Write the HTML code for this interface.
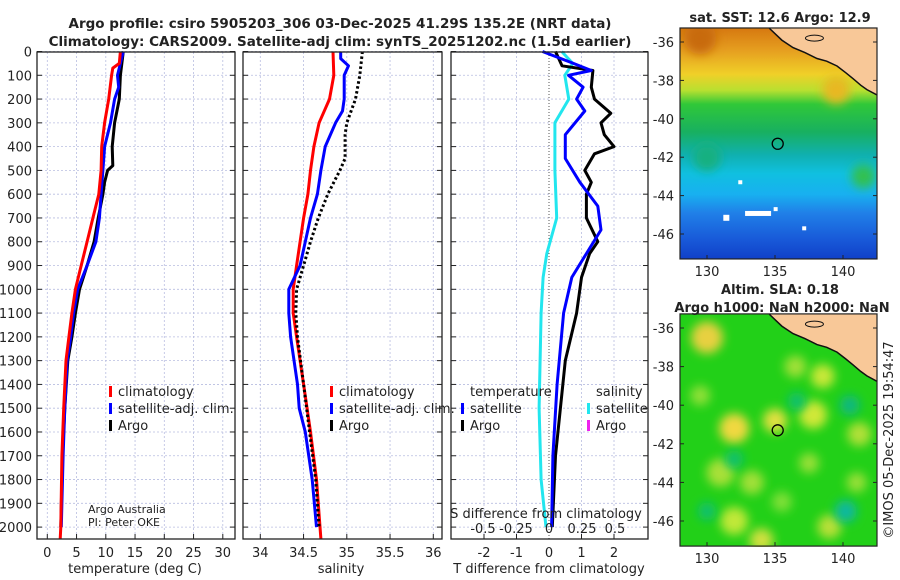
<!DOCTYPE html>
<html><head><meta charset="utf-8">
<style>
html,body{margin:0;padding:0;background:#fff;}
svg{display:block;font-family:"DejaVu Sans","Liberation Sans",sans-serif;}
</style></head>
<body>
<svg id="fig" width="900" height="580" viewBox="0 0 900 580" xmlns="http://www.w3.org/2000/svg">
<defs>
<linearGradient id="sstg" x1="0" y1="0" x2="0" y2="1">
<stop offset="0" stop-color="#d67810"/><stop offset="0.1" stop-color="#e6a020"/>
<stop offset="0.2" stop-color="#f0d028"/><stop offset="0.27" stop-color="#b8e030"/>
<stop offset="0.33" stop-color="#30c838"/><stop offset="0.45" stop-color="#18b060"/>
<stop offset="0.55" stop-color="#10b0b0"/><stop offset="0.63" stop-color="#10c0e0"/>
<stop offset="0.72" stop-color="#18b0f0"/><stop offset="0.8" stop-color="#2080e8"/>
<stop offset="0.92" stop-color="#1858d8"/><stop offset="1" stop-color="#1040c8"/>
</linearGradient>
<filter id="blur" x="-100%" y="-100%" width="300%" height="300%"><feGaussianBlur stdDeviation="5"/></filter>
<clipPath id="clipTop"><rect x="680" y="28" width="197" height="231"/></clipPath>
<clipPath id="clipBot"><rect x="680" y="314" width="197" height="233"/></clipPath>
</defs>
<g id="root"></g>
</svg>
<script>
// ---------- profile data ----------
var depthTicks = [0,100,200,300,400,500,600,700,800,900,1000,1100,1200,1300,1400,1500,1600,1700,1800,1900,2000];
var tempTicks = [0,5,10,15,20,25,30];
var salTicks = [34,34.5,35,35.5,36];
var tdiffTicks = [-2,-1,0,1,2];
var sdiffTicks = [-0.5,-0.25,0,0.25,0.5];

var tClimDepth = [0,50,70,100,200,300,400,500,600,700,800,900,1000,1100,1200,1300,1500,1700,2000,2050];
var tClimVal   = [12.5,12.3,11.2,11,10.5,9.8,9.3,9.2,8.8,7.8,6.8,5.8,4.8,4.2,3.7,3.2,2.8,2.5,2.3,2.2];
var tSatDepth = [0,100,150,200,300,400,500,600,700,800,900,1000,1100,1200,1300,1500,1700,2000];
var tSatVal   = [13,12,12.2,11.5,10.8,9.8,9.5,9.2,8.9,8.3,6.8,5.2,4.5,4,3.4,3.0,2.7,2.4];
var tArgoDepth = [0,100,200,300,400,480,500,550,600,700,800,900,1000,1100,1200,1300,1500,1700,2000];
var tArgoVal   = [13,12.5,12.3,11.5,11.1,11.2,10.3,9.8,9.5,8.7,8,6.8,5.5,4.8,4.2,3.5,3,2.6,2.3];

var sClimDepth = [0,100,200,300,400,500,600,700,800,900,1000,1100,1200,1400,1600,1800,2050];
var sClimVal   = [34.84,34.85,34.8,34.68,34.62,34.58,34.55,34.5,34.46,34.42,34.38,34.38,34.42,34.5,34.58,34.65,34.7];
var sSatDepth = [0,30,60,100,200,250,300,400,500,600,700,800,900,1000,1100,1200,1400,1500,1600,1800,2000];
var sSatVal   = [34.93,34.93,35.02,34.97,34.97,34.95,34.87,34.75,34.7,34.66,34.58,34.52,34.46,34.33,34.33,34.35,34.43,34.45,34.52,34.6,34.65];
var sArgoDepth = [0,100,200,300,350,450,500,550,600,700,800,900,1000,1100,1200,1400,1600,1800,2000];
var sArgoVal   = [35.18,35.15,35.1,35.0,34.98,34.98,34.92,34.85,34.78,34.67,34.58,34.5,34.42,34.41,34.43,34.5,34.57,34.64,34.68];

var dTSatDepth = [0,50,80,100,150,200,250,350,450,550,650,750,850,950,1100,1400,1700,2000];
var dTSatVal   = [-0.2,0.75,1.3,0.6,1.05,0.85,1.1,0.5,0.5,0.95,1.5,1.6,1.15,0.7,0.45,0.25,0.12,0.08];
var dTArgoDepth = [0,60,80,150,200,260,300,350,400,430,500,550,600,700,800,850,950,1100,1300,1500,1700,2000];
var dTArgoVal   = [0.2,0.4,1.35,1.3,1.4,1.9,1.6,1.7,2.0,1.4,1.1,1.3,1.15,1.15,1.5,1.25,1.0,0.85,0.5,0.35,0.2,0.1];
var dSSatDepth = [0,50,100,200,300,500,700,850,950,1100,1500,1800,2000];
var dSSatVal   = [0.096,0.18,0.12,0.15,0.045,0.045,0.058,-0.017,-0.045,-0.06,-0.075,-0.06,-0.023];

// map data
var lonTicks = [130,135,140];
var latTicks = [-36,-38,-40,-42,-44,-46];
var argoLon = [135.2];
var argoLat = [-41.3];
var coastLon = [134.5,134.63,135.5,136.32,137.2,138.09,138.8,139.56,140.2,140.74,141.3,141.76,142.5];
var coastLat = [-35.2,-35.32,-35.9,-36.29,-36.55,-36.86,-37.0,-37.25,-37.6,-37.91,-38.25,-38.48,-38.76];

// ---------- geometry ----------
var TOP=52, BOT=539, D0=51.5, DPX=0.2378;
function yD(d){return D0+d*DPX;}
var P1={l:37,r:235}, P2={l:243,r:442}, P3={l:451,r:648};
function xT(v){return 47.3+v*5.85;}
function xS(v){return 260.3+(v-34)*86.5;}
function xDT(v){return 549+v*32.5;}
function xDS(v){return 549+v*132;}
function xLon(v){return 707+(v-130)*13.6;}
function yLatTop(v){return 42+(-36-v)*19.2;}
function yLatBot(v){return 328+(-36-v)*19.3;}

var NS="http://www.w3.org/2000/svg";
var root=document.getElementById('root');
function mk(tag,attrs,parent){
  var e=document.createElementNS(NS,tag);
  for(var k in attrs) e.setAttribute(k,attrs[k]);
  (parent||root).appendChild(e);
  return e;
}
function txt(s,x,y,size,anchor,weight,parent){
  var t=mk('text',{x:x,y:y,'font-size':size,'text-anchor':anchor||'start','font-weight':weight||'normal',fill:'#222'},parent);
  t.textContent=s;
  return t;
}
function panel(P,name){
  var g=mk('g',{});
  
  
  return g;
}
function grid(g,P,xticks,xf){
  xticks.forEach(function(v){
    var l=mk('line',{x1:xf(v),x2:xf(v),y1:TOP,y2:BOT,stroke:'#b8bde0','stroke-width':0.8,'stroke-dasharray':'2,2'},g);
    
    
  });
  depthTicks.forEach(function(d){
    var l=mk('line',{x1:P.l,x2:P.r,y1:yD(d),y2:yD(d),stroke:'#b8bde0','stroke-width':0.8,'stroke-dasharray':'2,2'},g);
    
    
    mk('line',{x1:P.l,x2:P.l+5,y1:yD(d),y2:yD(d),stroke:'#222'},g);
    mk('line',{x1:P.r-5,x2:P.r,y1:yD(d),y2:yD(d),stroke:'#222'},g);
  });
  xticks.forEach(function(v){
    mk('line',{x1:xf(v),x2:xf(v),y1:BOT-5,y2:BOT,stroke:'#222'},g);
  });
}
function frame(g,P){
  var r=mk('rect',{x:P.l,y:TOP,width:P.r-P.l,height:BOT-TOP,fill:'none',stroke:'#222','stroke-width':1.3},g);
  
  
}
function line(g,ds,vs,xf,color,name,dash){
  var pts=ds.map(function(d,i){return xf(vs[i]).toFixed(1)+','+yD(d).toFixed(1);}).join(' ');
  var a={points:pts,fill:'none',stroke:color,'stroke-width':3,'stroke-linejoin':'round'};
  if(dash)a['stroke-dasharray']=dash;
  var p=mk('polyline',a,g);
  
  
}
function legendEntry(g,x,y,color,label,name){
  var e=mk('g',{},g);
  
  
  mk('rect',{x:x,y:y-10,width:3,height:11,fill:color},e);
  txt(label,x+9,y,13,'start','normal',e);
}

// titles
var t1=txt('Argo profile: csiro 5905203_306 03-Dec-2025 41.29S 135.2E (NRT data)',340,28,13.5,'middle','bold');


var t2=txt('Climatology: CARS2009. Satellite-adj clim: synTS_20251202.nc (1.5d earlier)',340,46,13.5,'middle','bold');



// depth labels
depthTicks.forEach(function(d){
  var l=txt(String(d),32,yD(d)+5,13,'end');
  
  
});

// panel 1
var g1=panel(P1,'temperature-panel');
grid(g1,P1,tempTicks,xT);
line(g1,tArgoDepth,tArgoVal,xT,'#000','temp-argo-line');
line(g1,tSatDepth,tSatVal,xT,'#0000ff','temp-satellite-line');
line(g1,tClimDepth,tClimVal,xT,'#ff0000','temp-climatology-line');
frame(g1,P1);
tempTicks.forEach(function(v){var l=txt(String(v),xT(v),557,13,'middle','normal',g1);
  });
var xl1=txt('temperature (deg C)',135,573,13,'middle','normal',g1);


legendEntry(g1,109,396,'#ff0000','climatology','legend-climatology');
legendEntry(g1,109,413,'#0000ff','satellite-adj. clim.','legend-satellite');
legendEntry(g1,109,430,'#000','Argo','legend-argo');
var cr=txt('Argo Australia',88,513,11,'start','normal',g1);

var cr2=txt('PI: Peter OKE',88,526,11,'start','normal',g1);


// panel 2
var g2=panel(P2,'salinity-panel');
grid(g2,P2,salTicks,xS);
line(g2,sClimDepth,sClimVal,xS,'#ff0000','sal-climatology-line');
line(g2,sSatDepth,sSatVal,xS,'#0000ff','sal-satellite-line');
line(g2,sArgoDepth,sArgoVal,xS,'#000','sal-argo-line','2.5,2.5');
frame(g2,P2);
salTicks.forEach(function(v){var l=txt(String(v),xS(v),557,13,'middle','normal',g2);
  });
var xl2=txt('salinity',341,573,13,'middle','normal',g2);


legendEntry(g2,330,396,'#ff0000','climatology','legend-climatology');
legendEntry(g2,330,413,'#0000ff','satellite-adj. clim.','legend-satellite');
legendEntry(g2,330,430,'#000','Argo','legend-argo');

// panel 3
var g3=panel(P3,'difference-panel');
grid(g3,P3,tdiffTicks.filter(function(v){return v!==0;}),xDT);
mk('line',{x1:xDT(0),x2:xDT(0),y1:TOP,y2:BOT,stroke:'#555','stroke-width':1,'stroke-dasharray':'1,2'},g3);
line(g3,dSSatDepth,dSSatVal,xDS,'#22e6ee','sdiff-satellite-line');
line(g3,dTArgoDepth,dTArgoVal,xDT,'#000','tdiff-argo-line');
line(g3,dTSatDepth,dTSatVal,xDT,'#0000ff','tdiff-satellite-line');
frame(g3,P3);
tdiffTicks.forEach(function(v){var l=txt(String(v),xDT(v),557,13,'middle','normal',g3);
  });
sdiffTicks.forEach(function(v){var l=txt(String(v),xDS(v),533,13,'middle','normal',g3);
  });
var sl=txt('S difference from climatology',546,518,13,'middle','normal',g3);

var xl3=txt('T difference from climatology',549,573,13,'middle','normal',g3);


var lt=txt('temperature',470,396,13,'start','normal',g3);

var ls=txt('salinity',596,396,13,'start','normal',g3);

legendEntry(g3,461,413,'#0000ff','satellite','legend-tdiff-satellite');
legendEntry(g3,461,430,'#000','Argo','legend-tdiff-argo');
legendEntry(g3,587,413,'#22e6ee','satellite','legend-sdiff-satellite');
legendEntry(g3,587,430,'#ee22ee','Argo','legend-sdiff-argo');

// ---------- maps ----------
function drawMap(yLat,clip,name,titleLines,fillFn){
  var g=mk('g',{});
  
  
  var top=yLat(-35.27), bot=yLat(-47.3);
  var inner=mk('g',{'clip-path':'url(#'+clip+')'},g);
  fillFn(inner,top,bot);
  var pts=coastLon.map(function(v,i){return xLon(v).toFixed(1)+','+yLat(coastLat[i]).toFixed(1);});
  var land=mk('polygon',{points:pts.join(' ')+' 880,'+(top-2),fill:'#f8c898',stroke:'none'},inner);
  
  
  var coast=mk('polyline',{points:pts.join(' '),fill:'none',stroke:'#111','stroke-width':1.5},inner);
  
  
  var isl=mk('ellipse',{cx:xLon(137.9),cy:yLat(-35.8),rx:9,ry:3,fill:'#f8c898',stroke:'#111','stroke-width':1},inner);
  
  
  var fr=mk('rect',{x:680,y:top,width:197,height:bot-top,fill:'none',stroke:'#222','stroke-width':1.2},g);
  
  
  latTicks.forEach(function(v){
    var l=txt(String(v),674,yLat(v)+5,13,'end','normal',g);
    
    
    mk('line',{x1:680,x2:684,y1:yLat(v),y2:yLat(v),stroke:'#222'},g);
    mk('line',{x1:873,x2:877,y1:yLat(v),y2:yLat(v),stroke:'#222'},g);
  });
  lonTicks.forEach(function(v){
    var l=txt(String(v),xLon(v),bot+17,13,'middle','normal',g);
    
    
    mk('line',{x1:xLon(v),x2:xLon(v),y1:bot-4,y2:bot,stroke:'#222'},g);
  });
  argoLon.forEach(function(v,i){
    var c=mk('circle',{cx:xLon(v),cy:yLat(argoLat[i]),r:5.5,fill:'none',stroke:'#000','stroke-width':1.3},g);
    
    
  });
  titleLines.forEach(function(s,i){
    var t=txt(s[0],s[1],s[2],13,'middle','bold',g);
    
    
  });
}
function blob(g,lon,lat,yLat,r,color){
  mk('circle',{cx:xLon(lon),cy:yLat(lat),r:r,fill:color,filter:'url(#blur)'},g);
}
drawMap(yLatTop,'clipTop','sst-map',[['sat. SST: 12.6 Argo: 12.9',780,22]],function(g,top,bot){
  mk('rect',{x:680,y:top,width:197,height:bot-top,fill:'url(#sstg)'},g);
  blob(g,129.5,-35.8,yLatTop,16,'#c86a10');
  blob(g,139.5,-38.5,yLatTop,14,'#e8b820');
  blob(g,141.5,-43,yLatTop,12,'#30c050');
  blob(g,130,-42,yLatTop,14,'#18b080');
  [[132.8,-44.8,26,5],[131.2,-45,6,6],[132.3,-43.2,4,4],[134.9,-44.6,4,4],[137,-45.6,4,4]].forEach(function(w){
    var r=mk('rect',{x:xLon(w[0]),y:yLatTop(w[1]),width:w[2],height:w[3],fill:'#fff'},g);
    
    
  });
});
drawMap(yLatBot,'clipBot','sla-map',[['Altim. SLA: 0.18',780,294],['Argo h1000: NaN h2000: NaN',782,312]],function(g,top,bot){
  mk('rect',{x:680,y:top,width:197,height:bot-top,fill:'#22d018'},g);
  [[130,-36.5,16,'#e8d040'],[132,-41.2,15,'#f0d840'],[135,-40.8,12,'#e0e040'],[137.8,-40.5,14,'#d0e838'],
   [131,-43.5,14,'#a8e038'],[133.3,-44,12,'#a0e038'],[132,-46,14,'#c0e838'],[138.5,-38.5,12,'#c8e838'],
   [136.5,-38,11,'#a0e038'],[141.2,-41.5,12,'#b0e038'],[134,-47,12,'#d0e040'],[139,-46.3,12,'#b8e038'],
   [137.5,-43,10,'#98e038'],[129.5,-39.5,10,'#90e038'],[141,-44,10,'#98e038'],[135.5,-45,10,'#80e038']].forEach(function(b){
    blob(g,b[0],b[1],yLatBot,b[2],b[3]);
  });
  [[140.5,-40,10,'#10b880'],[140.2,-45.5,11,'#10b8a0'],[136.6,-39.8,9,'#10c070'],[132,-42.8,9,'#10c070'],[130,-45.5,9,'#10c070']].forEach(function(b){
    blob(g,b[0],b[1],yLatBot,b[2],b[3]);
  });
});
var ts=mk('text',{x:0,y:0,'font-size':13,'text-anchor':'middle',fill:'#222',transform:'translate(893,440) rotate(-90)'});
ts.textContent='©IMOS 05-Dec-2025 19:54:47';


</script>
</body></html>
